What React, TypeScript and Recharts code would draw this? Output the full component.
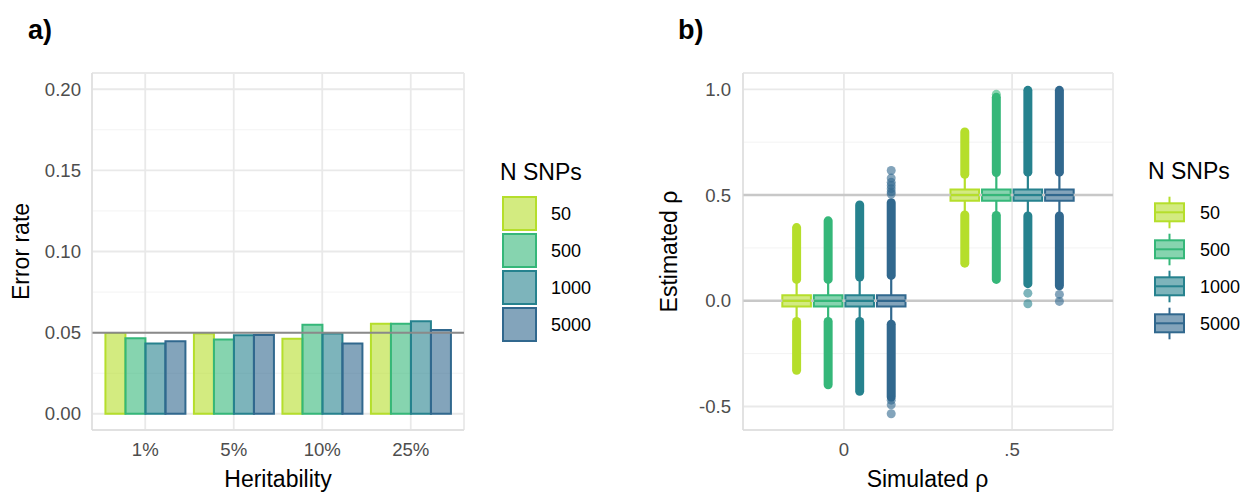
import React from 'react';
import {
  ComposedChart,
  Bar,
  XAxis,
  YAxis,
  CartesianGrid,
  ReferenceLine,
  ReferenceArea,
  Scatter,
  Legend,
} from 'recharts';

// ---------- shared series ----------
const seriesNames = ['50', '500', '1000', '5000'];
const seriesColors = ['#B5DE2B', '#35B779', '#26828E', '#31688E'];

// ---------- panel a ----------
const heritability = ['1%', '5%', '10%', '25%'];
const errRate50 = [0.0497, 0.0495, 0.0463, 0.0555];
const errRate500 = [0.0466, 0.0457, 0.0549, 0.0554];
const errRate1000 = [0.0433, 0.0484, 0.0495, 0.057];
const errRate5000 = [0.0447, 0.0486, 0.0433, 0.0517];
const errorTicks = [0, 0.05, 0.1, 0.15, 0.2];
const errorMinorTicks = [0.025, 0.075, 0.125, 0.175];
const nominalErrorRate = 0.05;

// ---------- panel b ----------
const simulatedLabels = ['0', '.5'];
const simulatedRho = [0, 0.5];
const rhoTicks = [-0.5, 0, 0.5, 1];
const rhoMinorTicks = [-0.25, 0.25, 0.75];
// [simulated group][N SNPs series]
const boxMedian = [[0, 0, 0, 0], [0.5, 0.5, 0.5, 0.5]];
const boxQ1 = [[-0.027, -0.027, -0.027, -0.027], [0.473, 0.473, 0.473, 0.473]];
const boxQ3 = [[0.026, 0.026, 0.026, 0.026], [0.526, 0.526, 0.526, 0.526]];
const upperWhisker = [[0.101, 0.101, 0.112, 0.12], [0.598, 0.606, 0.608, 0.608]];
const upperOutlierMax = [[0.346, 0.378, 0.453, 0.464], [0.798, 0.962, 0.995, 0.995]];
const lowerWhisker = [[-0.098, -0.098, -0.098, -0.111], [0.406, 0.403, 0.401, 0.401]];
const lowerOutlierMin = [[-0.329, -0.397, -0.428, -0.455], [0.178, 0.101, 0.081, 0.071]];
const sparseOutliers: number[][][] = [
  [[], [], [], [0.505, 0.515, 0.53, 0.545, 0.56, 0.58, 0.616, -0.47, -0.492, -0.534]],
  [[], [0.976], [0.036, -0.014], [0.03, -0.003]],
];

const FONT = '"Liberation Sans", Arial, Helvetica, sans-serif';
const TICK_COLOR = '#4d4d4d';
const BORDER = '#d9d9d9';
const GRID = '#e9e9e9';
const GRID_MINOR = '#f3f3f3';
const TICK_FONT = 18.6;

const barData = heritability.map((h, i) => ({
  h,
  s50: errRate50[i],
  s500: errRate500[i],
  s1000: errRate1000[i],
  s5000: errRate5000[i],
}));
const barKeys = ['s50', 's500', 's1000', 's5000'];

const groupPos = simulatedLabels.map((_, i) => i + 1);
const dodgeWidth = 0.75;
const dodge = (s: number) => ((s - (seriesNames.length - 1) / 2) * dodgeWidth) / seriesNames.length;
const boxHalf = 0.085;

const LegendA = () => (
  <svg width={130} height={200} style={{ overflow: 'visible', fontFamily: FONT }}>
    <text x={5} y={30} fontSize={23} fill="#000">N SNPs</text>
    {seriesNames.map((n, i) => (
      <g key={n}>
        <rect x={8} y={47 + 37 * i} width={33} height={33} fill={seriesColors[i]} fillOpacity={0.6} stroke={seriesColors[i]} strokeWidth={2} />
        <text x={56} y={63.5 + 37 * i} fontSize={18} dominantBaseline="central" fill="#000">{n}</text>
      </g>
    ))}
  </svg>
);

const LegendB = () => (
  <svg width={130} height={200} style={{ overflow: 'visible', fontFamily: FONT }}>
    <text x={5} y={29} fontSize={23} fill="#000">N SNPs</text>
    {seriesNames.map((n, i) => {
      const c = seriesColors[i];
      const o = 37 * i;
      return (
        <g key={n}>
          <line x1={26.5} x2={26.5} y1={46.7 + o} y2={78.3 + o} stroke={c} strokeWidth={2} />
          <rect x={12} y={53.3 + o} width={29} height={18} fill="#fff" />
          <rect x={12} y={53.3 + o} width={29} height={18} fill={c} fillOpacity={0.6} stroke={c} strokeWidth={2} />
          <line x1={12} x2={41} y1={62.3 + o} y2={62.3 + o} stroke={c} strokeWidth={2} />
          <text x={57} y={63 + o} fontSize={18} dominantBaseline="central" fill="#000">{n}</text>
        </g>
      );
    })}
  </svg>
);

const boxElements = simulatedRho.flatMap((_, g) =>
  seriesNames.flatMap((name, s) => {
    const cx = groupPos[g] + dodge(s);
    const c = seriesColors[s];
    const k = `${g}-${s}`;
    return [
      <ReferenceLine key={`wu${k}`} segment={[{ x: cx, y: boxQ3[g][s] }, { x: cx, y: upperWhisker[g][s] }]} stroke={c} strokeWidth={2.2} />,
      <ReferenceLine key={`wl${k}`} segment={[{ x: cx, y: boxQ1[g][s] }, { x: cx, y: lowerWhisker[g][s] }]} stroke={c} strokeWidth={2.2} />,
      <ReferenceLine key={`cu${k}`} segment={[{ x: cx, y: upperWhisker[g][s] }, { x: cx, y: upperOutlierMax[g][s] }]} stroke={c} strokeWidth={9} strokeLinecap="round" />,
      <ReferenceLine key={`cl${k}`} segment={[{ x: cx, y: lowerWhisker[g][s] }, { x: cx, y: lowerOutlierMin[g][s] }]} stroke={c} strokeWidth={9} strokeLinecap="round" />,
      <ReferenceArea key={`bw${k}`} x1={cx - boxHalf} x2={cx + boxHalf} y1={boxQ1[g][s]} y2={boxQ3[g][s]} fill="#ffffff" fillOpacity={1} stroke="none" />,
      <ReferenceArea key={`bx${k}`} x1={cx - boxHalf} x2={cx + boxHalf} y1={boxQ1[g][s]} y2={boxQ3[g][s]} fill={c} fillOpacity={0.6} stroke={c} strokeWidth={2} />,
      <ReferenceLine key={`md${k}`} segment={[{ x: cx - boxHalf, y: boxMedian[g][s] }, { x: cx + boxHalf, y: boxMedian[g][s] }]} stroke={c} strokeWidth={2.5} />,
    ];
  })
);

const scatterData = seriesNames.map((_, s) =>
  simulatedRho.flatMap((__, g) => sparseOutliers[g][s].map((y) => ({ x: groupPos[g] + dodge(s), y })))
);

export default function App() {
  return (
    <div style={{ position: 'absolute', left: 0, top: 0, width: 1245, height: 500, background: '#fff', fontFamily: FONT }}>
      {/* Panel a */}
      <div style={{ position: 'absolute', left: 0, top: 0 }}>
        <ComposedChart
          width={620}
          height={500}
          data={barData}
          margin={{ top: 73, right: 156, bottom: 0, left: 0 }}
          barCategoryGap="5%"
          barGap={0}
        >
          <CartesianGrid horizontalValues={errorMinorTicks} vertical={false} stroke={GRID_MINOR} strokeWidth={1} />
          <CartesianGrid stroke={GRID} strokeWidth={1.8} />
          <XAxis
            dataKey="h"
            padding={{ left: 9, right: 9 }}
            height={70}
            tickLine={false}
            axisLine={{ stroke: BORDER }}
            tick={{ fill: TICK_COLOR, fontSize: TICK_FONT }}
            tickSize={0}
            tickMargin={13}
            interval={0}
          />
          <XAxis xAxisId="top" dataKey="h" orientation="top" height={0} tick={false} tickLine={false} axisLine={{ stroke: BORDER }} />
          <YAxis
            type="number"
            domain={[-0.01, 0.21]}
            ticks={errorTicks}
            width={92}
            tickLine={false}
            axisLine={{ stroke: BORDER }}
            tick={{ fill: TICK_COLOR, fontSize: TICK_FONT }}
            tickSize={0}
            tickMargin={11}
            tickFormatter={(v: number) => v.toFixed(2)}
            allowDataOverflow
          />
          <YAxis yAxisId="right" orientation="right" width={0} tick={false} tickLine={false} axisLine={{ stroke: BORDER }} />
          {barKeys.map((k, i) => (
            <Bar
              key={k}
              dataKey={k}
              name={seriesNames[i]}
              fill={seriesColors[i]}
              fillOpacity={0.6}
              stroke={seriesColors[i]}
              strokeWidth={2}
              isAnimationActive={false}
            />
          ))}
          <ReferenceLine y={nominalErrorRate} stroke="#8a8a8a" strokeWidth={2} />
          <Legend
            layout="vertical"
            align="center"
            verticalAlign="middle"
            wrapperStyle={{ position: 'absolute', left: 495, top: 150, width: 130, height: 200 }}
            content={() => <LegendA />}
          />
        </ComposedChart>
      </div>

      {/* Panel b */}
      <div style={{ position: 'absolute', left: 620, top: 0 }}>
        <ComposedChart width={625} height={500} margin={{ top: 73, right: 132, bottom: 0, left: 0 }}>
          <CartesianGrid horizontalValues={rhoMinorTicks} vertical={false} stroke={GRID_MINOR} strokeWidth={1} />
          <CartesianGrid stroke={GRID} strokeWidth={1.8} />
          <XAxis
            type="number"
            dataKey="x"
            domain={[0.4, 2.6]}
            ticks={groupPos}
            interval={0}
            allowDataOverflow
            height={70}
            tickLine={false}
            axisLine={{ stroke: BORDER }}
            tick={{ fill: TICK_COLOR, fontSize: TICK_FONT }}
            tickSize={0}
            tickMargin={13}
            tickFormatter={(v: number) => simulatedLabels[v - 1]}
          />
          <XAxis xAxisId="top" type="number" domain={[0.4, 2.6]} orientation="top" height={0} tick={false} tickLine={false} axisLine={{ stroke: BORDER }} />
          <YAxis
            type="number"
            dataKey="y"
            domain={[-0.611, 1.077]}
            ticks={rhoTicks}
            allowDataOverflow
            width={123}
            tickLine={false}
            axisLine={{ stroke: BORDER }}
            tick={{ fill: TICK_COLOR, fontSize: TICK_FONT }}
            tickSize={0}
            tickMargin={12}
            tickFormatter={(v: number) => v.toFixed(1)}
          />
          <YAxis yAxisId="right" orientation="right" width={0} tick={false} tickLine={false} axisLine={{ stroke: BORDER }} />
          {simulatedRho.map((r) => (
            <ReferenceLine key={`ref${r}`} y={r} stroke="#c8c8c8" strokeWidth={2.5} />
          ))}
          {boxElements}
          {seriesNames.map((n, s) => (
            <Scatter
              key={n}
              name={n}
              data={scatterData[s]}
              isAnimationActive={false}
              shape={(p: any) => <circle cx={p.cx} cy={p.cy} r={4.5} fill={seriesColors[s]} fillOpacity={0.6} />}
            />
          ))}
          <Legend
            layout="vertical"
            align="center"
            verticalAlign="middle"
            wrapperStyle={{ position: 'absolute', left: 523, top: 150, width: 130, height: 200 }}
            content={() => <LegendB />}
          />
        </ComposedChart>
      </div>

      {/* titles and panel tags */}
      <svg width={1245} height={500} style={{ position: 'absolute', left: 0, top: 0, pointerEvents: 'none', fontFamily: FONT }}>
        <text x={28} y={39} fontSize={27} fontWeight="bold" fill="#000">a)</text>
        <text x={678} y={39} fontSize={27} fontWeight="bold" fill="#000">b)</text>
        <text transform="translate(29,251.5) rotate(-90)" textAnchor="middle" fontSize={23} fill="#000">Error rate</text>
        <text x={278} y={487} textAnchor="middle" fontSize={23} fill="#000">Heritability</text>
        <text transform="translate(677,251.5) rotate(-90)" textAnchor="middle" fontSize={23} fill="#000">Estimated ρ</text>
        <text x={927.5} y={487} textAnchor="middle" fontSize={23} fill="#000">Simulated ρ</text>
      </svg>
    </div>
  );
}
